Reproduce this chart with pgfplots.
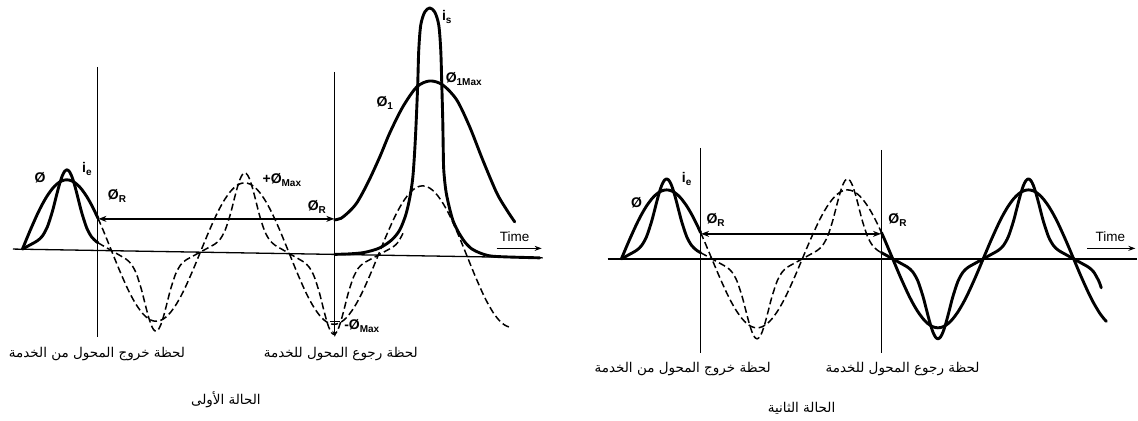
\documentclass[border=0pt]{standalone}
\usepackage{pgfplots}
\usepackage{pgfplotstable}
\pgfplotsset{compat=1.18}
\usetikzlibrary{arrows.meta}
\usepackage{fontspec}
\setmainfont{Liberation Sans}
\newfontfamily\arabicfont[Script=Arabic]{DejaVu Sans}
\TeXXeTstate=1
\newcommand{\sub}[1]{\raisebox{-0.45ex}{\fontsize{10}{10}\selectfont #1}}
\newcommand{\lab}[1]{{\fontsize{14}{15}\selectfont\bfseries #1}}
\newcommand{\ar}[1]{{\arabicfont\fontsize{13.5}{15}\selectfont\beginR #1\endR}}

% one table of the wave shape: phase t (degrees), flux shape c, exciting-current shape f
\pgfplotstableread{
t c f
-180 -1 -1
-175 -0.9962 -0.978
-170 -0.9848 -0.916
-165 -0.9659 -0.821
-160 -0.9397 -0.706
-155 -0.9063 -0.583
-150 -0.8660 -0.465
-140 -0.7660 -0.277
-130 -0.6428 -0.165
-120 -0.5000 -0.106
-105 -0.2588 -0.052
-90 0 0
-75 0.2588 0.052
-60 0.5000 0.106
-50 0.6428 0.165
-40 0.7660 0.277
-30 0.8660 0.465
-25 0.9063 0.583
-20 0.9397 0.706
-15 0.9659 0.821
-10 0.9848 0.916
-5 0.9962 0.978
0 1 1
5 0.9962 0.978
10 0.9848 0.916
15 0.9659 0.821
20 0.9397 0.706
25 0.9063 0.583
30 0.8660 0.465
40 0.7660 0.277
50 0.6428 0.165
60 0.5000 0.106
62.7 0.4586 0.095
67.6 0.3808 0.077
75 0.2588 0.052
90 0 0
105 -0.2588 -0.052
120 -0.5000 -0.106
130 -0.6428 -0.165
140 -0.7660 -0.277
150 -0.8660 -0.465
155 -0.9063 -0.583
160 -0.9397 -0.706
165 -0.9659 -0.821
170 -0.9848 -0.916
175 -0.9962 -0.978
180 -1 -1
185 -0.9962 -0.978
190 -0.9848 -0.916
195 -0.9659 -0.821
200 -0.9397 -0.706
205 -0.9063 -0.583
210 -0.8660 -0.465
220 -0.7660 -0.277
230 -0.6428 -0.165
240 -0.5000 -0.106
255 -0.2588 -0.052
270 0 0
285 0.2588 0.052
300 0.5000 0.106
310 0.6428 0.165
320 0.7660 0.277
330 0.8660 0.465
335 0.9063 0.583
340 0.9397 0.706
345 0.9659 0.821
350 0.9848 0.916
355 0.9962 0.978
360 1 1
365 0.9962 0.978
370 0.9848 0.916
375 0.9659 0.821
380 0.9397 0.706
385 0.9063 0.583
390 0.8660 0.465
400 0.7660 0.277
410 0.6428 0.165
420 0.5000 0.106
427.6 0.3808 0.077
435 0.2588 0.052
450 0 0
465 -0.2588 -0.052
480 -0.5000 -0.106
490 -0.6428 -0.165
500 -0.7660 -0.277
510 -0.8660 -0.465
515 -0.9063 -0.583
520 -0.9397 -0.706
525 -0.9659 -0.821
530 -0.9848 -0.916
535 -0.9962 -0.978
540 -1 -1
545 -0.9962 -0.978
550 -0.9848 -0.916
555 -0.9659 -0.821
560 -0.9397 -0.706
565 -0.9063 -0.583
570 -0.8660 -0.465
580 -0.7660 -0.277
590 -0.6428 -0.165
600 -0.5000 -0.106
615 -0.2588 -0.052
630 0 0
645 0.2588 0.052
660 0.5000 0.106
670 0.6428 0.165
680 0.7660 0.277
690 0.8660 0.465
695 0.9063 0.583
700 0.9397 0.706
705 0.9659 0.821
710 0.9848 0.916
715 0.9962 0.978
720 1 1
725 0.9962 0.978
730 0.9848 0.916
735 0.9659 0.821
740 0.9397 0.706
745 0.9063 0.583
750 0.8660 0.465
760 0.7660 0.277
770 0.6428 0.165
780 0.5000 0.106
795 0.2588 0.052
810 0 0
825 -0.2588 -0.052
840 -0.5000 -0.106
850 -0.6428 -0.165
860 -0.7660 -0.277
865 -0.8192 -0.362
870 -0.8660 -0.465
875 -0.9063 -0.583
880 -0.9397 -0.706
885 -0.9659 -0.821
890 -0.9848 -0.916
895 -0.9962 -0.978
900 -1 -1
}\wave

% inrush current spike (left case)
\pgfplotstableread{
x y
335 254.5
350 254
365 252.5
380 248
392 240
400 230
406 215
410 198
413 178
415 150
416.5 120
418 83
419 50
421 25
425 12
430 8
435 12
439 25
441 50
442 83
443 120
443.5 150
444 170
446 190
449 205
453 220
458 231
465 242
472 249
480 253
490 256
505 257
540 258
}\inrush

% flux after re-energising (left case)
\pgfplotstableread{
x y
335 220
341 218.5
348 213
357 203
368 183
380 157
390 133
403 107
417 87
430 81
443 85
457 100
470 127
483 160
497 193
507 210
515 222
}\fluxone

\tikzset{
  solidc/.style={black, line width=2.9pt, line join=round, line cap=round, smooth},
  dashc/.style={black, line width=1.5pt, dash pattern=on 7pt off 3.5pt, smooth},
  thin/.style={black, line width=1.3pt},
}

\begin{document}
\begin{tikzpicture}
\begin{axis}[
  scale only axis, width=1138pt, height=421pt,
  xmin=0, xmax=1138, ymin=0, ymax=421, y dir=reverse,
  hide axis, clip=false, no markers,
]
\path (axis cs:0,0) (axis cs:1138,421);

% ===== Left case =====
\addplot[thin] coordinates {(13,249.2) (543,258)};
\addplot[thin] coordinates {(97.7,67) (97.7,337)};
\addplot[thin, -{Stealth[length=6pt,width=5pt]}] coordinates {(335,72) (335,337)};
\addplot[thin] coordinates {(330,322) (340,322)};
\addplot[thin, {Stealth[length=8pt,width=6pt]}-{Stealth[length=8pt,width=6pt]}] coordinates {(98.5,219) (334.5,219)};
\addplot[thin, -{Stealth[length=7pt,width=5pt]}] coordinates {(497,248.5) (542,248.5)};

\addplot[solidc, restrict x to domain=22:98.1] table[x expr=67+0.49444*\thisrow{t}, y expr=249.92+0.008406*\thisrow{t}-70*\thisrow{c}] {\wave};
\addplot[solidc, restrict x to domain=22:98.1] table[x expr=67+0.49444*\thisrow{t}, y expr=249.92+0.008406*\thisrow{t}-80*\thisrow{f}] {\wave};
\addplot[dashc, restrict x to domain=97.9:513] table[x expr=67+0.49444*\thisrow{t}, y expr=249.92+0.008406*\thisrow{t}-70*\thisrow{c}] {\wave};
\addplot[dashc, restrict x to domain=97.9:404] table[x expr=67+0.49444*\thisrow{t}, y expr=249.92+0.008406*\thisrow{t}-80*\thisrow{f}] {\wave};
\addplot[solidc] table[x=x, y=y] {\fluxone};
\addplot[solidc, tension=0.5] table[x=x, y=y] {\inrush};

\node at (axis cs:40,178) {\lab{Ø}};
\node at (axis cs:87,169) {\lab{i\sub{e}}};
\node at (axis cs:117,196) {\lab{Ø\sub{R}}};
\node at (axis cs:282,180) {\lab{+Ø\sub{Max}}};
\node at (axis cs:317,207) {\lab{Ø\sub{R}}};
\node at (axis cs:362,326) {\lab{-Ø\sub{Max}}};
\node at (axis cs:385,103) {\lab{Ø\sub{1}}};
\node at (axis cs:464,79) {\lab{Ø\sub{1Max}}};
\node at (axis cs:447,17) {\lab{i\sub{s}}};
\node at (axis cs:515,237) {\fontsize{13.5}{14}\selectfont Time};

\node at (axis cs:97,354) {\ar{لحظة خروج المحول من الخدمة}};
\node at (axis cs:341,354) {\ar{لحظة رجوع المحول للخدمة}};
\node at (axis cs:226,400) {\ar{الحالة الأولى}};

% ===== Right case =====
\addplot[thin] coordinates {(608,259) (1138,259)};
\addplot[thin] coordinates {(701,148) (701,353)};
\addplot[thin] coordinates {(882,150) (882,353)};
\addplot[thin, {Stealth[length=8pt,width=6pt]}-{Stealth[length=8pt,width=6pt]}] coordinates {(701.5,234) (881.5,234)};
\addplot[thin, -{Stealth[length=7pt,width=5pt]}] coordinates {(1088,248.5) (1136,248.5)};

\addplot[solidc, restrict x to domain=621:701.1] table[x expr=667+0.50278*\thisrow{t}, y expr=259-69*\thisrow{c}] {\wave};
\addplot[solidc, restrict x to domain=621:701.1] table[x expr=667+0.50278*\thisrow{t}, y expr=259-80*\thisrow{f}] {\wave};
\addplot[dashc, restrict x to domain=700.9:882.1] table[x expr=667+0.50278*\thisrow{t}, y expr=259-69*\thisrow{c}] {\wave};
\addplot[dashc, restrict x to domain=700.9:882.1] table[x expr=667+0.50278*\thisrow{t}, y expr=259-80*\thisrow{f}] {\wave};
\addplot[solidc, restrict x to domain=881.9:1107.2] table[x expr=667+0.50278*\thisrow{t}, y expr=259-69*\thisrow{c}] {\wave};
\addplot[solidc, restrict x to domain=881.9:1102.2] table[x expr=667+0.50278*\thisrow{t}, y expr=259-80*\thisrow{f}] {\wave};

\node at (axis cs:637,203) {\lab{Ø}};
\node at (axis cs:687,179) {\lab{i\sub{e}}};
\node at (axis cs:716,220) {\lab{Ø\sub{R}}};
\node at (axis cs:898,220) {\lab{Ø\sub{R}}};
\node at (axis cs:1111,237) {\fontsize{13.5}{14}\selectfont Time};

\node at (axis cs:683,369) {\ar{لحظة خروج المحول من الخدمة}};
\node at (axis cs:903,369) {\ar{لحظة رجوع المحول للخدمة}};
\node at (axis cs:802,409) {\ar{الحالة الثانية}};
\end{axis}
\end{tikzpicture}
\end{document}
